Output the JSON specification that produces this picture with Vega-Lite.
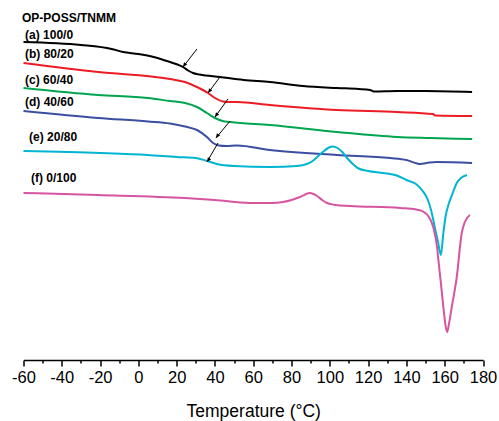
{
  "$schema": "https://vega.github.io/schema/vega-lite/v6.json",
  "width": 459.5,
  "height": 344,
  "autosize": {"type": "none"},
  "padding": {"left": 23.5, "top": 16, "right": 16, "bottom": 61},
  "background": "white",
  "config": {"view": {"stroke": null}, "font": "Liberation Sans"},
  "resolve": {"axis": {"x": "independent"}},
  "datasets": {
    "curves": [
      {"s":"a","t":-60,"h":319},{"s":"a","t":-30,"h":316},{"s":"a","t":-14,"h":312},{"s":"a","t":-8,"h":309},{"s":"a","t":0,"h":307},{"s":"a","t":8,"h":304},{"s":"a","t":14,"h":300.5},{"s":"a","t":18,"h":298},{"s":"a","t":21,"h":296},{"s":"a","t":23.3,"h":294},{"s":"a","t":26,"h":290.5},{"s":"a","t":28.5,"h":288},{"s":"a","t":32,"h":286.5},{"s":"a","t":42.6,"h":284},{"s":"a","t":55,"h":281},{"s":"a","t":68.7,"h":279},{"s":"a","t":86,"h":275},{"s":"a","t":103.7,"h":273},{"s":"a","t":115,"h":272},{"s":"a","t":121,"h":271},{"s":"a","t":123,"h":269.5},{"s":"a","t":135,"h":270},{"s":"a","t":150,"h":270},{"s":"a","t":174.3,"h":269},
      {"s":"b","t":-60,"h":298},{"s":"b","t":-21,"h":289},{"s":"b","t":16.5,"h":282},{"s":"b","t":24.4,"h":279},{"s":"b","t":30.6,"h":274},{"s":"b","t":36.4,"h":268},{"s":"b","t":40,"h":263},{"s":"b","t":44.2,"h":259.5},{"s":"b","t":47,"h":259},{"s":"b","t":51.5,"h":259},{"s":"b","t":68.7,"h":256},{"s":"b","t":103.7,"h":251},{"s":"b","t":135.1,"h":249},{"s":"b","t":153.9,"h":247},{"s":"b","t":155,"h":245.5},{"s":"b","t":174.3,"h":245},
      {"s":"c","t":-60,"h":273},{"s":"c","t":-21,"h":266},{"s":"c","t":5,"h":263},{"s":"c","t":16.5,"h":260},{"s":"c","t":24.4,"h":258},{"s":"c","t":30.6,"h":254},{"s":"c","t":35.8,"h":248},{"s":"c","t":40,"h":243},{"s":"c","t":44,"h":240},{"s":"c","t":48,"h":239},{"s":"c","t":68.7,"h":236},{"s":"c","t":103.7,"h":229},{"s":"c","t":135.1,"h":224},{"s":"c","t":152.4,"h":223},{"s":"c","t":174.3,"h":222},
      {"s":"d","t":-60,"h":250},{"s":"d","t":-21,"h":243},{"s":"d","t":5,"h":239.5},{"s":"d","t":16.5,"h":237.5},{"s":"d","t":24.4,"h":234.5},{"s":"d","t":30.6,"h":231},{"s":"d","t":35.8,"h":224},{"s":"d","t":39,"h":218},{"s":"d","t":42,"h":215.5},{"s":"d","t":46,"h":215},{"s":"d","t":51.5,"h":215.5},{"s":"d","t":68.7,"h":211},{"s":"d","t":103.7,"h":206},{"s":"d","t":131.5,"h":203},{"s":"d","t":140,"h":201},{"s":"d","t":145.6,"h":197.5},{"s":"d","t":147.1,"h":197},{"s":"d","t":152,"h":198.5},{"s":"d","t":156,"h":199},{"s":"d","t":174.3,"h":198},
      {"s":"e","t":-60,"h":210},{"s":"e","t":-20,"h":208},{"s":"e","t":5,"h":206},{"s":"e","t":20,"h":204},{"s":"e","t":30,"h":203},{"s":"e","t":36,"h":200},{"s":"e","t":41,"h":197},{"s":"e","t":50,"h":195},{"s":"e","t":68.7,"h":194},{"s":"e","t":82.8,"h":195},{"s":"e","t":88,"h":197},{"s":"e","t":91,"h":200},{"s":"e","t":94,"h":205},{"s":"e","t":97,"h":210},{"s":"e","t":99.5,"h":213.5},{"s":"e","t":101.7,"h":214.5},{"s":"e","t":104,"h":213},{"s":"e","t":106.5,"h":209},{"s":"e","t":109,"h":203},{"s":"e","t":112,"h":197},{"s":"e","t":115,"h":192.5},{"s":"e","t":120,"h":190},{"s":"e","t":127.8,"h":188},{"s":"e","t":135,"h":185.5},{"s":"e","t":140,"h":181},{"s":"e","t":145,"h":177},{"s":"e","t":148.5,"h":170},{"s":"e","t":151,"h":162},{"s":"e","t":153,"h":150},{"s":"e","t":155,"h":132},{"s":"e","t":156.6,"h":118},{"s":"e","t":158,"h":106},{"s":"e","t":159.3,"h":128},{"s":"e","t":160.5,"h":145},{"s":"e","t":161.9,"h":156},{"s":"e","t":164,"h":167},{"s":"e","t":166.3,"h":178},{"s":"e","t":168.5,"h":183},{"s":"e","t":171.6,"h":186},
      {"s":"f","t":-60,"h":168},{"s":"f","t":-21,"h":166},{"s":"f","t":24.4,"h":163},{"s":"f","t":40,"h":161},{"s":"f","t":58.3,"h":158},{"s":"f","t":70,"h":158},{"s":"f","t":75.5,"h":159},{"s":"f","t":80,"h":161},{"s":"f","t":84.4,"h":164},{"s":"f","t":89.6,"h":168},{"s":"f","t":91.5,"h":167},{"s":"f","t":93.3,"h":165},{"s":"f","t":96,"h":161},{"s":"f","t":98.5,"h":158},{"s":"f","t":103,"h":156},{"s":"f","t":110.5,"h":155},{"s":"f","t":136.7,"h":153},{"s":"f","t":145,"h":151.5},{"s":"f","t":148.7,"h":149.5},{"s":"f","t":151,"h":146},{"s":"f","t":154,"h":134},{"s":"f","t":156,"h":114},{"s":"f","t":156.7,"h":101},{"s":"f","t":158,"h":78},{"s":"f","t":159.3,"h":54},{"s":"f","t":160.4,"h":36},{"s":"f","t":161.3,"h":29},{"s":"f","t":162.3,"h":38},{"s":"f","t":163.7,"h":54},{"s":"f","t":166.3,"h":84},{"s":"f","t":168.9,"h":128},{"s":"f","t":170.5,"h":139},{"s":"f","t":173.2,"h":146}
    ],
    "labels": [
      {"t":-60.8,"h":343,"label":"OP-POSS/TNMM"},
      {"t":-59.2,"h":326,"label":"(a) 100/0"},
      {"t":-59.2,"h":307,"label":"(b) 80/20"},
      {"t":-59.2,"h":281,"label":"(c) 60/40"},
      {"t":-59.2,"h":259,"label":"(d) 40/60"},
      {"t":-57.1,"h":224,"label":"(e) 20/80"},
      {"t":-56.1,"h":183,"label":"(f) 0/100"}
    ],
    "arrows": [
      {"t":30.6,"h":312,"t2":23.3,"h2":294},
      {"t":42.6,"h":284,"t2":36.4,"h2":268},
      {"t":46.8,"h":262,"t2":40.0,"h2":244},
      {"t":47.9,"h":240,"t2":40.5,"h2":223},
      {"t":41.6,"h":218,"t2":35.8,"h2":199}
    ]
  },
  "layer": [
    {
      "data": {"name": "curves"},
      "mark": {"type": "line", "strokeWidth": 2, "interpolate": "monotone", "clip": false},
      "encoding": {
        "x": {
          "field": "t", "type": "quantitative",
          "scale": {"domain": [-60, 180], "nice": false, "zero": false},
          "axis": {
            "orient": "bottom",
            "title": "Temperature (°C)",
            "values": [-60,-40,-20,0,20,40,60,80,100,120,140,160,180],
            "labelExpr": "'' + datum.value",
            "tickSize": 6,
            "grid": false,
            "domainColor": "black", "domainWidth": 1.5,
            "tickColor": "black", "tickWidth": 1.5,
            "labelColor": "black", "labelFontSize": 16.5, "labelPadding": 3,
            "labelFlush": false, "labelOverlap": false, "labelBound": false,
            "titleColor": "black", "titleFontSize": 17.5, "titleFontWeight": "normal", "titlePadding": 17
          }
        },
        "y": {"field": "h", "type": "quantitative", "scale": {"domain": [1, 345], "nice": false, "zero": false}, "axis": null},
        "color": {
          "field": "s", "type": "nominal", "legend": null,
          "scale": {"domain": ["a","b","c","d","e","f"], "range": ["#000000","#ED1C24","#00A64F","#3B4EA2","#00B5D1","#D654A0"]}
        }
      }
    },
    {
      "data": {"name": "arrows"},
      "mark": {"type": "rule", "color": "black", "strokeWidth": 1, "clip": false},
      "encoding": {
        "x": {
          "field": "t", "type": "quantitative",
          "axis": {
            "orient": "bottom",
            "title": null,
            "values": [-50,-30,-10,10,30,50,70,90,110,130,150,170],
            "labels": false,
            "domain": false,
            "grid": false,
            "tickSize": 3, "tickColor": "black", "tickWidth": 1.5
          }
        },
        "y": {"field": "h", "type": "quantitative"},
        "x2": {"field": "t2"},
        "y2": {"field": "h2"}
      }
    },
    {
      "data": {"name": "arrows"},
      "mark": {"type": "point", "shape": "M0,0 L-0.45,-1 L0.45,-1 Z", "filled": true, "color": "black", "size": 80, "angle": 36, "opacity": 1, "clip": false},
      "encoding": {
        "x": {"field": "t2", "type": "quantitative", "axis": null},
        "y": {"field": "h2", "type": "quantitative"}
      }
    },
    {
      "data": {"name": "labels"},
      "mark": {"type": "text", "align": "left", "baseline": "middle", "fontWeight": "bold", "fontSize": 12, "color": "black", "clip": false},
      "encoding": {
        "x": {"field": "t", "type": "quantitative", "axis": null},
        "y": {"field": "h", "type": "quantitative"},
        "text": {"field": "label"}
      }
    }
  ]
}
